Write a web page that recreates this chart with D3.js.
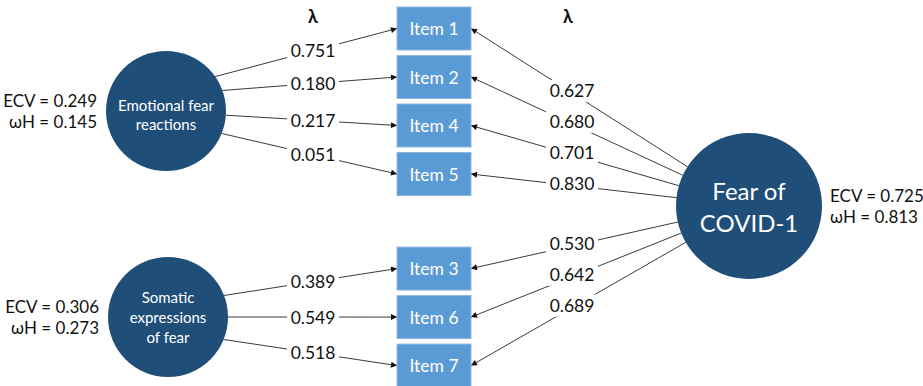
<!DOCTYPE html>
<html>
<head>
<meta charset="utf-8">
<script src="https://cdn.jsdelivr.net/npm/d3@7"></script>
<style>
  body { margin: 0; background: #fff; }
  text { font-family: "Lato", "Open Sans", sans-serif; }
</style>
</head>
<body>
<svg id="diagram"></svg>
<script>
// bifactor model: items, specific and general loadings
const items = ["Item 1", "Item 2", "Item 4", "Item 5", "Item 3", "Item 6", "Item 7"];
const itemFactor = [0, 0, 0, 0, 1, 1, 1];
const specificLoadings = [0.751, 0.180, 0.217, 0.051, 0.389, 0.549, 0.518];
const generalLoadings = [0.627, 0.680, 0.701, 0.830, 0.530, 0.642, 0.689];

const factorNames = [["Emotional fear", "reactions"], ["Somatic", "expressions", "of fear"], ["Fear of", "COVID-1"]];
const ecv = [0.249, 0.306, 0.725];
const omegaH = [0.145, 0.273, 0.813];

const width = 923, height = 386;

// layout
const boxX = 397, boxW = 74, boxH = 43;
const slot = i => i + (i >= 4 ? 0.95 : 0);
const yScale = d3.scaleLinear().domain([0, 1]).range([7, 55.5]);
const factorPos = [
    { cx: 166, cy: 111, r: 60, fs: 15, lh: 19, dy: 3 },
    { cx: 168, cy: 317, r: 60, fs: 15, lh: 20, dy: 0 },
    { cx: 749, cy: 206, r: 73, fs: 24, lh: 32, dy: 0 }
];
const startAngle = [-35, -20, 4, 22, -21, 0, 22]; // where specific paths leave the circle
const leftLabelX = 313, rightLabelX = 572;

const svg = d3.select("#diagram").attr("width", width).attr("height", height);

svg.append("defs").append("marker")
    .attr("id", "arrow")
    .attr("viewBox", "0 0 10 10")
    .attr("refX", 10).attr("refY", 5)
    .attr("markerWidth", 7).attr("markerHeight", 6)
    .attr("markerUnits", "userSpaceOnUse")
    .attr("orient", "auto")
    .append("path")
    .attr("d", "M0,0 L10,5 L0,10 z")
    .attr("fill", "#111");

const rows = items.map((name, i) => {
    const top = yScale(slot(i));
    const f = factorPos[itemFactor[i]];
    const a = startAngle[i] * Math.PI / 180;
    const g = factorPos[2];
    const tx = boxX + boxW, ty = top + boxH / 2;
    const ang = Math.atan2(ty - g.cy, tx - g.cx);
    return {
        name, top,
        s: { x1: f.cx + f.r * Math.cos(a), y1: f.cy + f.r * Math.sin(a), x2: boxX, y2: top + boxH / 2, v: specificLoadings[i] },
        g: { x1: g.cx + g.r * Math.cos(ang), y1: g.cy + g.r * Math.sin(ang), x2: tx, y2: ty, v: generalLoadings[i] }
    };
});

const atX = (l, x) => l.y1 + (l.y2 - l.y1) * (x - l.x1) / (l.x2 - l.x1);

// paths
const paths = svg.append("g");
paths.selectAll("line.spec").data(rows).join("line")
    .attr("class", "spec")
    .attr("x1", d => d.s.x1).attr("y1", d => d.s.y1)
    .attr("x2", d => d.s.x2).attr("y2", d => d.s.y2)
    .attr("stroke", "#3a3a3a").attr("stroke-width", 1)
    .attr("marker-end", "url(#arrow)");
paths.selectAll("line.gen").data(rows).join("line")
    .attr("class", "gen")
    .attr("x1", d => d.g.x1).attr("y1", d => d.g.y1)
    .attr("x2", d => d.g.x2).attr("y2", d => d.g.y2)
    .attr("stroke", "#3a3a3a").attr("stroke-width", 1)
    .attr("marker-end", "url(#arrow)");

// loading labels with white background
const labels = [];
rows.forEach(d => {
    labels.push({ x: leftLabelX, y: atX(d.s, leftLabelX), v: d.s.v });
    labels.push({ x: rightLabelX, y: atX(d.g, rightLabelX) - 2, v: d.g.v });
});
const lab = svg.append("g").selectAll("g").data(labels).join("g")
    .attr("transform", d => `translate(${d.x},${d.y})`);
lab.append("rect")
    .attr("x", -26).attr("y", -11).attr("width", 52).attr("height", 22)
    .attr("fill", "#fff");
lab.append("text")
    .attr("text-anchor", "middle").attr("dominant-baseline", "central")
    .attr("font-size", 17.5).attr("fill", "#111")
    .text(d => d3.format(".3f")(d.v));

// lambda headers
svg.selectAll("text.lambda").data([leftLabelX, rightLabelX - 4]).join("text")
    .attr("class", "lambda")
    .attr("x", d => d).attr("y", 16)
    .attr("text-anchor", "middle").attr("dominant-baseline", "central")
    .attr("font-size", 18).attr("font-weight", "bold").attr("fill", "#111")
    .text("λ");

// item boxes
const box = svg.append("g").selectAll("g").data(rows).join("g");
box.append("rect")
    .attr("x", boxX).attr("y", d => d.top)
    .attr("width", boxW).attr("height", boxH)
    .attr("fill", "#5b9bd5").attr("stroke", "#8db8e2").attr("stroke-width", 1);
box.append("text")
    .attr("x", boxX + boxW / 2).attr("y", d => d.top + boxH / 2)
    .attr("text-anchor", "middle").attr("dominant-baseline", "central")
    .attr("font-size", 17.5).attr("fill", "#fff")
    .text(d => d.name);

// factors
const fac = svg.append("g").selectAll("g").data(factorPos).join("g");
fac.append("circle")
    .attr("cx", d => d.cx).attr("cy", d => d.cy).attr("r", d => d.r)
    .attr("fill", "#1f4e79");
fac.each(function (d, i) {
    const lines = factorNames[i];
    d3.select(this).selectAll("text.name").data(lines).join("text")
        .attr("class", "name")
        .attr("x", d.cx)
        .attr("y", (t, j) => d.cy + d.dy + (j - (lines.length - 1) / 2) * d.lh)
        .attr("text-anchor", "middle").attr("dominant-baseline", "central")
        .attr("font-size", d.fs).attr("fill", "#fff")
        .text(t => t);
    const right = i === 2;
    const x = right ? d.cx + d.r + 8 : d.cx - d.r - 9;
    d3.select(this).selectAll("text.stat")
        .data([`ECV = ${d3.format(".3f")(ecv[i])}`, `ωH = ${d3.format(".3f")(omegaH[i])}`])
        .join("text")
        .attr("class", "stat")
        .attr("x", x)
        .attr("y", (t, j) => d.cy - 11 + j * 21)
        .attr("text-anchor", right ? "start" : "end").attr("dominant-baseline", "central")
        .attr("font-size", 17).attr("fill", "#111")
        .text(t => t);
});
</script>
</body>
</html>
